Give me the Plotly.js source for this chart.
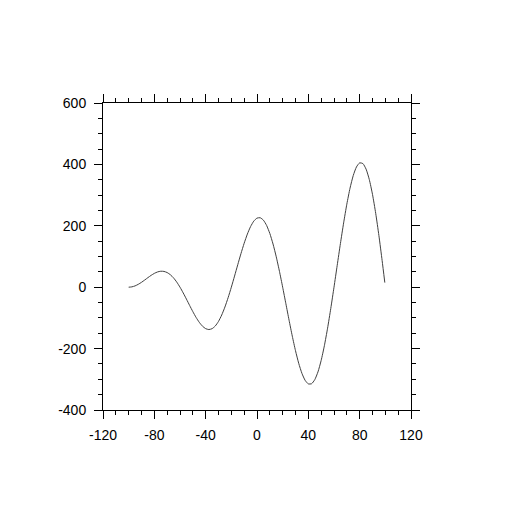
<!DOCTYPE html>
<html>
<head>
<meta charset="utf-8">
<script src="https://cdn.plot.ly/plotly-3.0.1.min.js"></script>
<style>html,body{margin:0;padding:0;background:#fff;}#chart{width:514px;height:514px;}</style>
</head>
<body>
<div id="chart"></div>
<script>
// Values
const xValues = [-100, -97.5, -95, -92.5, -90, -87.5, -85, -82.5, -80, -77.5, -75, -72.5, -70, -67.5, -65, -62.5,
  -60, -57.5, -55, -52.5, -50, -47.5, -45, -42.5, -40, -37.5, -35, -32.5, -30, -27.5, -25, -22.5,
  -20, -17.5, -15, -12.5, -10, -7.5, -5, -2.5, 0, 2.5, 5, 7.5, 10, 12.5, 15, 17.5,
  20, 22.5, 25, 27.5, 30, 32.5, 35, 37.5, 40, 42.5, 45, 47.5, 50, 52.5, 55, 57.5,
  60, 62.5, 65, 67.5, 70, 72.5, 75, 77.5, 80, 82.5, 85, 87.5, 90, 92.5, 95, 97.5, 99.6];
const yValues = [0, 1.1, 4.3, 9.4, 15.9, 23.4, 31.2, 38.6, 45, 49.7, 52, 51.4, 47.7, 40.6, 30.1, 16.5,
  0, -18.7, -38.7, -59.4, -79.5, -98.2, -114.3, -126.9, -135, -137.9, -135.1, -126.3, -111.4, -90.6, -64.6, -34,
  0, 36.2, 73.2, 109.4, 143.2, 173.1, 197.5, 215.2, 225, 226.2, 218.3, 201.1, 175, 140.6, 99, 51.6,
  0, -53.8, -107.6, -159.4, -206.8, -247.9, -280.6, -303.4, -315, -314.5, -301.4, -276, -238.6, -190.6, -133.5, -69.1,
  0, 71.3, 142.1, 209.4, 270.5, 322.7, 363.8, 391.7, 405, 402.7, 384.6, 350.8, 302.3, 240.6, 167.9, 86.7, 15];
const xTickVals = [-120, -80, -40, 0, 40, 80, 120];
const xTickText = ["-120", "-80", "-40", "0", "40", "80", "120"];
const yTickVals = [-400, -200, 0, 200, 400, 600];
const yTickText = ["-400", "-200", "0", "200", "400", "600"];

const trace = {
  x: xValues, y: yValues, type: 'scatter', mode: 'lines',
  line: {color: '#404040', width: 1, shape: 'spline', smoothing: 0.6},
  hoverinfo: 'skip'
};
const axisCommon = {
  showgrid: false, zeroline: false, showline: true, linecolor: '#000', linewidth: 1,
  mirror: 'allticks', ticks: 'outside', ticklen: 8, tickwidth: 1, tickcolor: '#000',
  tickfont: {family: 'Liberation Sans, Arial, Helvetica, sans-serif', size: 14, color: '#000'},
  tickmode: 'array', fixedrange: true
};
const layout = {
  width: 514, height: 514,
  margin: {l: 103, r: 103, t: 103, b: 104, pad: 0},
  paper_bgcolor: '#fff', plot_bgcolor: '#fff',
  showlegend: false,
  xaxis: Object.assign({}, axisCommon, {
    range: [-120, 120], tickvals: xTickVals, ticktext: xTickText, ticklabelstandoff: 4,
    minor: {dtick: 10, tick0: 0, ticks: 'outside', ticklen: 4, tickwidth: 1, tickcolor: '#000', showgrid: false}
  }),
  yaxis: Object.assign({}, axisCommon, {
    range: [-400, 600], tickvals: yTickVals, ticktext: yTickText, ticklabelstandoff: 5,
    minor: {dtick: 50, tick0: 0, ticks: 'outside', ticklen: 4, tickwidth: 1, tickcolor: '#000', showgrid: false}
  })
};
Plotly.newPlot('chart', [trace], layout, {staticPlot: true, displayModeBar: false});
</script>
</body>
</html>
